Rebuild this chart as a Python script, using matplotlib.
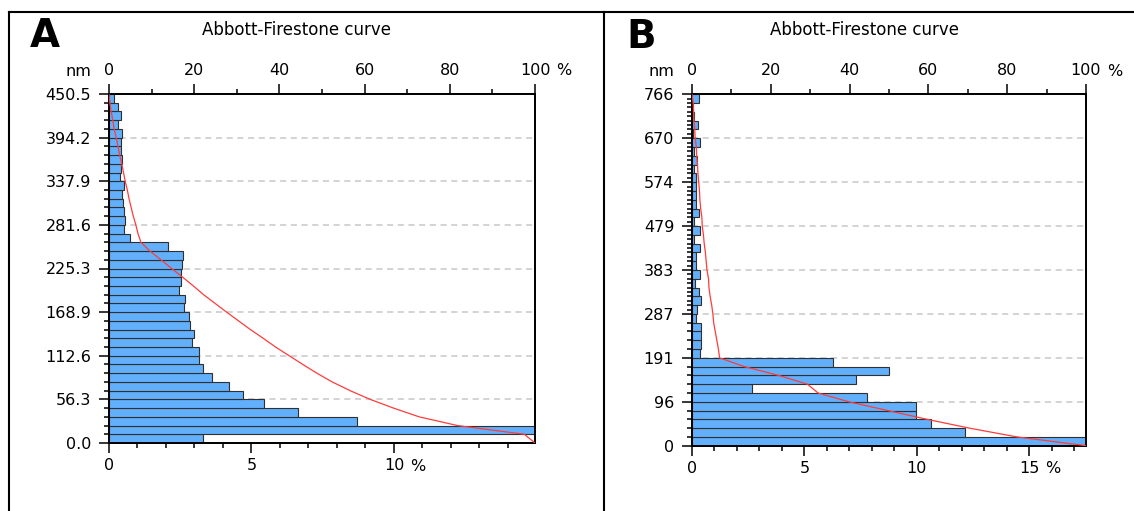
import numpy as np
import matplotlib.pyplot as plt
from matplotlib.lines import Line2D
from matplotlib.ticker import FixedLocator, MultipleLocator

W, H = 1134, 511

# painel A (alturas em nm, barras de baixo para cima, em %)
a_top = 450.5
a_ylabels = ['0.0', '56.3', '112.6', '168.9', '225.3', '281.6', '337.9', '394.2', '450.5']
a_bars = [3.31, 14.95, 8.71, 6.62, 5.45, 4.72, 4.22, 3.63, 3.30, 3.15,
          3.17, 2.93, 3.00, 2.84, 2.81, 2.63, 2.68, 2.47, 2.51, 2.52,
          2.55, 2.59, 2.06, 0.75, 0.51, 0.55, 0.51, 0.48, 0.44, 0.51,
          0.40, 0.42, 0.45, 0.43, 0.42, 0.44, 0.30, 0.41, 0.33, 0.19]
a_curve = [100, 97.5, 81.8, 72.8, 66.8, 61.3, 56.6, 52.4, 48.8, 45.5,
           42.3, 39.1, 36.2, 33.2, 30.4, 27.6, 24.9, 22.2, 19.8, 17.3,
           14.7, 12.2, 9.6, 7.5, 6.8, 6.3, 5.7, 5.2, 4.7, 4.3,
           3.8, 3.4, 3.0, 2.5, 2.1, 1.7, 1.2, 0.9, 0.5, 0.2, 0]
a_xmax = 14.95
a_xticks = [0, 5, 10]

# painel B
b_top = 766
b_ylabels = ['0', '96', '191', '287', '383', '479', '574', '670', '766']
b_bars = [17.53, 12.16, 10.65, 9.98, 9.95, 7.78, 2.69, 7.29, 8.78, 6.26,
          0.36, 0.40, 0.40, 0.40, 0.19, 0.24, 0.40, 0.31, 0.12, 0.36,
          0.19, 0.19, 0.36, 0.10, 0.34, 0.09, 0.31, 0.20, 0.18, 0.18,
          0.18, 0.10, 0.24, 0.08, 0.34, 0.05, 0.25, 0.10, 0.03, 0.31]
b_curve = [100, 82.5, 70.4, 59.7, 49.7, 39.8, 32.0, 29.3, 22.0, 13.3,
           7.0, 6.7, 6.3, 5.9, 5.5, 5.3, 5.0, 4.6, 4.3, 4.2,
           3.8, 3.6, 3.4, 3.1, 2.9, 2.6, 2.5, 2.2, 2.0, 1.9,
           1.7, 1.5, 1.4, 1.2, 1.1, 0.8, 0.7, 0.5, 0.4, 0.3, 0]
b_xmax = 17.53
b_xticks = [0, 5, 10, 15]

fig = plt.figure(figsize=(W / 100, H / 100), dpi=100)


def px_rect(left, top, right, bottom):
    return [left / W, 1 - bottom / H, (right - left) / W, (bottom - top) / H]


def panel(rect, top_nm, bars, curve, ylabels, xmax, xticks, minor_y):
    ax = fig.add_axes(rect)
    n = len(bars)
    h = top_nm / n
    ax.barh(np.arange(n) * h, bars, height=h, align='edge', color='#62b0fb',
            edgecolor='#303030', linewidth=0.8, zorder=2)
    ax.set_xlim(0, xmax)
    ax.set_ylim(0, top_nm)

    majors = np.linspace(0, top_nm, len(ylabels))
    for y in majors[1:-1]:
        ax.axhline(y, color='#c8c8c8', lw=1.1, ls=(0, (4, 3)), zorder=1)
    ax.set_yticks(majors)
    ax.set_yticklabels(ylabels)
    ax.yaxis.set_minor_locator(FixedLocator(minor_y))
    ax.set_xticks(xticks)
    ax.set_xticklabels([str(v) for v in xticks])
    ax.xaxis.set_minor_locator(MultipleLocator(1))
    ax.tick_params(which='major', direction='out', length=7.2, width=1.1, labelsize=11.5)
    ax.tick_params(which='minor', direction='out', length=3.6, width=1.1)
    ax.tick_params(axis='y', pad=5.5)
    ax.tick_params(axis='x', pad=3.5)
    for s in ax.spines.values():
        s.set_linewidth(1.3)

    # curva de Abbott-Firestone no eixo de cima (0-100 %)
    ax2 = ax.twiny()
    ax2.set_xlim(0, 100)
    ax2.set_xticks([0, 20, 40, 60, 80, 100])
    ax2.xaxis.set_minor_locator(MultipleLocator(10))
    ax2.tick_params(which='major', direction='out', length=7.2, width=1.1, labelsize=11.5, pad=4.5)
    ax2.tick_params(which='minor', direction='out', length=3.6, width=1.1)
    edges = np.linspace(0, top_nm, n + 1)
    ax2.plot(curve, edges, color='#ff3b3b', lw=0.9, zorder=3)
    for s in ax2.spines.values():
        s.set_linewidth(1.3)

    ax.annotate('nm', xy=(0, 1), xycoords='axes fraction', xytext=(-31, 23),
                textcoords='offset pixels', ha='center', va='center', fontsize=11.5)
    ax2.annotate('%', xy=(1, 1), xycoords='axes fraction', xytext=(21, 23),
                 textcoords='offset pixels', ha='left', va='center', fontsize=11.5)
    ax.annotate('%', xy=(xticks[-1], 0), xycoords=('data', 'axes fraction'), xytext=(16, -23),
                textcoords='offset pixels', ha='left', va='center', fontsize=11.5)
    return ax


a_minor = np.linspace(0, a_top, 41)
edges40 = np.linspace(0, b_top, 41)
edges80 = np.linspace(0, b_top, 81)
b_minor = np.unique(np.round(np.concatenate([edges40[edges40 <= 288], edges80[edges80 >= 287]]), 3))

panel(px_rect(109, 94, 535, 443), a_top, a_bars, a_curve, a_ylabels, a_xmax, a_xticks, a_minor)
panel(px_rect(692, 94.3, 1086, 445.7), b_top, b_bars, b_curve, b_ylabels, b_xmax, b_xticks, b_minor)

# títulos e letras dos painéis
fig.text(297 / W, 1 - 30 / H, 'Abbott-Firestone curve', ha='center', va='center', fontsize=12)
fig.text(865 / W, 1 - 30 / H, 'Abbott-Firestone curve', ha='center', va='center', fontsize=12)
fig.text(45 / W, 1 - 36 / H, 'A', ha='center', va='center', fontsize=28, fontweight='bold')
fig.text(641 / W, 1 - 37 / H, 'B', ha='center', va='center', fontsize=28, fontweight='bold')

# moldura
for (x0, y0, x1, y1) in [(9, 12, 1134, 12), (9, 12, 9, 511), (604, 12, 604, 511)]:
    fig.add_artist(Line2D([x0 / W, x1 / W], [1 - y0 / H, 1 - y1 / H],
                          transform=fig.transFigure, color='black', lw=1.5))

fig.savefig('out.png', dpi=100)
